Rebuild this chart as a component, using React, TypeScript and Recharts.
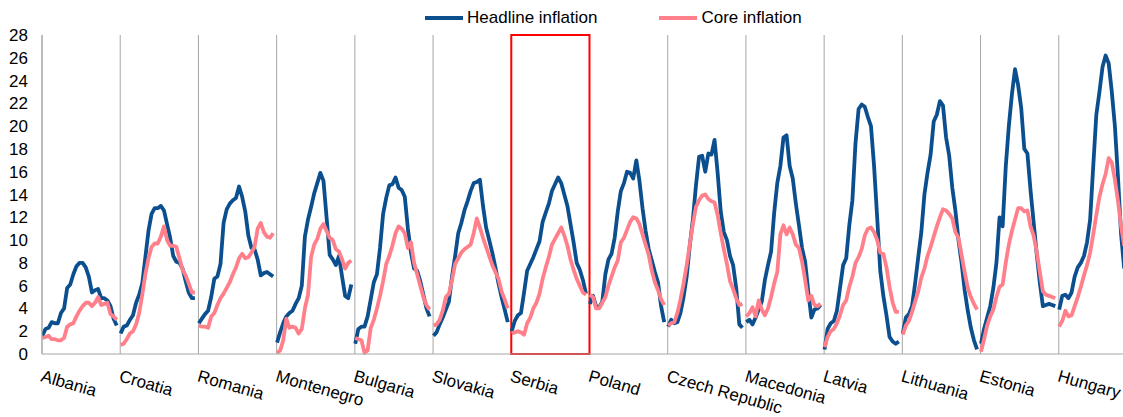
import { LineChart, Line, XAxis, YAxis, CartesianGrid, ReferenceArea } from 'recharts'

const countries = [
	'Albania', 'Croatia', 'Romania', 'Montenegro', 'Bulgaria', 'Slovakia', 'Serbia',
	'Poland', 'Czech Republic', 'Macedonia', 'Latvia', 'Lithuania', 'Estonia', 'Hungary',
]

// headline inflation, one row per country (% y/y)
const headline = [
	[1.6, 2.2, 2.3, 2.8, 2.7, 2.7, 3.6, 4.0, 5.8, 6.1, 7.0, 7.7, 8.0, 8.0, 7.6, 6.8, 5.4, 5.6, 5.7, 4.9, 4.9, 4.7, 4.2, 3.1, 2.5],
	[1.8, 2.4, 2.5, 3.0, 3.4, 4.5, 5.2, 6.2, 8.5, 10.8, 12.3, 12.8, 12.8, 13.0, 12.6, 11.4, 10.2, 8.6, 8.1, 8.0, 7.5, 6.4, 5.4, 4.9, 4.9],
	[2.7, 3.1, 3.5, 3.8, 5.0, 6.6, 6.8, 7.9, 11.5, 12.7, 13.2, 13.5, 13.7, 14.7, 13.8, 12.5, 10.4, 9.3, 9.2, 8.3, 6.9, 7.1, 7.2, 7.0, 6.8],
	[1.0, 1.9, 2.7, 3.3, 3.6, 3.8, 4.4, 4.9, 6.0, 10.3, 11.8, 12.9, 14.1, 15.0, 15.9, 15.2, 12.0, 8.7, 8.3, 7.8, 8.6, 6.8, 5.1, 4.9, 6.1],
	[0.9, 2.2, 2.4, 2.4, 3.3, 4.8, 6.3, 7.0, 9.3, 12.3, 13.7, 14.8, 14.9, 15.5, 14.6, 14.4, 13.8, 11.0, 8.9, 7.5, 7.3, 6.4, 5.2, 4.0, 3.3],
	[1.6, 1.9, 2.6, 3.2, 3.9, 4.6, 6.8, 8.6, 10.6, 11.5, 12.6, 13.4, 14.3, 15.0, 15.1, 15.3, 13.0, 11.1, 10.0, 8.9, 7.6, 6.2, 5.0, 3.9, 2.8],
	[2.0, 2.9, 3.4, 3.6, 5.4, 7.3, 7.9, 8.5, 9.2, 9.9, 11.6, 12.4, 13.2, 14.3, 14.9, 15.5, 15.0, 14.0, 13.0, 11.4, 9.8, 8.0, 7.4, 6.5, 5.3],
	[4.4, 5.1, 4.2, 4.1, 4.6, 7.0, 8.3, 8.8, 10.2, 12.5, 14.3, 15.0, 16.0, 15.9, 15.4, 17.0, 15.2, 12.8, 10.8, 9.2, 8.2, 7.2, 6.3, 4.2, 2.8],
	[2.4, 3.0, 2.7, 2.8, 3.6, 5.0, 6.8, 9.5, 11.8, 14.8, 17.3, 17.4, 16.0, 17.6, 17.5, 18.8, 15.9, 12.5, 10.7, 10.0, 8.6, 7.8, 5.8, 2.6, 2.3],
	[2.8, 3.0, 2.6, 3.2, 3.9, 4.6, 6.5, 7.8, 9.0, 12.4, 15.0, 16.5, 19.0, 19.2, 16.5, 15.4, 13.2, 11.3, 9.3, 8.1, 5.5, 3.2, 3.9, 4.0, 4.3],
	[0.4, 2.2, 2.7, 2.9, 3.8, 5.8, 7.8, 8.4, 11.3, 13.5, 18.5, 21.5, 21.9, 21.7, 20.8, 20.0, 16.5, 12.0, 7.3, 5.1, 3.4, 1.5, 1.1, 0.9, 1.1],
	[1.8, 3.2, 3.5, 4.2, 6.2, 8.5, 10.7, 14.0, 15.9, 17.5, 20.4, 21.0, 22.2, 21.8, 19.0, 17.4, 14.6, 12.6, 10.0, 8.0, 5.6, 3.8, 2.3, 1.2, 0.4],
	[0.9, 2.2, 3.2, 4.2, 5.8, 8.0, 12.0, 11.2, 16.4, 20.0, 22.8, 25.0, 23.6, 21.6, 18.0, 17.6, 14.4, 11.6, 8.8, 6.3, 4.2, 4.3, 4.4, 4.3, 4.2],
	[3.9, 5.1, 5.2, 4.9, 5.4, 6.8, 7.6, 8.0, 8.6, 9.8, 11.8, 16.5, 21.0, 23.0, 25.2, 26.2, 25.5, 23.0, 20.0, 15.5, 10.5, 7.5],
]

// core inflation, same layout
const core = [
	[1.4, 1.5, 1.6, 1.3, 1.3, 1.2, 1.2, 1.4, 2.4, 2.6, 2.7, 3.3, 3.8, 4.2, 4.5, 4.5, 4.2, 4.5, 5.0, 4.3, 4.4, 4.5, 3.5, 3.3, 3.0],
	[0.8, 0.9, 1.3, 1.8, 2.0, 2.6, 3.6, 5.2, 7.0, 8.4, 9.4, 9.7, 9.7, 10.3, 11.2, 10.0, 9.5, 9.5, 9.4, 8.4, 7.4, 6.9, 6.2, 5.4, 5.4],
	[2.5, 2.4, 2.4, 2.3, 3.3, 3.6, 4.3, 4.9, 5.3, 5.8, 6.3, 7.0, 7.6, 8.4, 8.8, 8.4, 8.5, 8.9, 9.4, 11.0, 11.5, 10.7, 10.3, 10.2, 10.6],
	[0.1, 0.3, 1.2, 3.1, 2.3, 2.4, 2.3, 1.8, 2.2, 4.0, 5.2, 8.5, 9.6, 10.1, 11.0, 11.4, 10.8, 10.2, 10.0, 9.2, 9.0, 8.3, 7.5, 8.0, 8.2],
	[1.4, 1.3, 1.2, 0.1, 0.3, 2.3, 3.0, 4.0, 5.1, 6.4, 7.9, 8.6, 9.5, 10.6, 11.2, 11.0, 10.6, 9.3, 9.8, 8.0, 7.0, 6.0, 5.0, 4.3, 3.9],
	[2.5, 2.6, 3.0, 3.8, 5.0, 5.3, 6.5, 7.9, 8.4, 8.9, 9.2, 9.4, 9.6, 10.6, 11.9, 11.1, 10.2, 9.4, 8.6, 7.8, 7.2, 6.6, 5.5, 4.8, 4.0],
	[1.8, 1.9, 2.0, 1.9, 1.7, 2.7, 3.2, 4.0, 4.5, 5.3, 6.6, 7.6, 8.5, 9.6, 10.1, 10.6, 11.1, 10.4, 9.5, 8.3, 7.4, 6.6, 6.0, 5.4, 5.2],
	[5.2, 5.0, 4.0, 4.0, 4.5, 5.0, 6.0, 6.8, 7.6, 8.2, 9.8, 10.2, 10.9, 11.6, 12.0, 11.9, 11.4, 10.5, 9.6, 8.7, 7.3, 6.3, 5.6, 4.8, 4.3],
	[2.5, 2.7, 2.8, 3.6, 4.8, 6.2, 7.8, 9.6, 11.4, 12.9, 13.5, 13.9, 14.0, 13.6, 13.4, 13.3, 12.2, 10.6, 9.2, 7.9, 6.4, 5.7, 4.9, 4.3, 4.4],
	[3.3, 3.6, 4.1, 3.3, 4.7, 3.9, 3.4, 4.0, 5.0, 6.2, 7.2, 10.5, 11.3, 10.5, 11.1, 10.5, 9.6, 9.3, 8.1, 6.5, 4.7, 5.1, 4.3, 4.2, 4.4],
	[0.6, 1.5, 2.0, 2.2, 2.7, 3.4, 4.3, 4.7, 5.9, 6.8, 8.0, 8.5, 9.2, 10.4, 11.0, 11.1, 10.7, 10.0, 8.9, 8.8, 7.6, 5.9, 4.5, 3.7, 3.7],
	[1.7, 2.5, 2.9, 3.7, 4.6, 5.5, 6.7, 7.5, 8.6, 9.4, 10.3, 11.2, 12.0, 12.7, 12.6, 12.3, 11.9, 10.7, 10.2, 8.7, 7.2, 5.8, 5.0, 4.4, 3.9],
	[0.2, 1.3, 2.5, 3.3, 3.9, 5.0, 5.9, 6.1, 8.0, 9.6, 10.8, 11.8, 12.8, 12.8, 12.5, 12.6, 11.2, 10.4, 9.0, 7.2, 5.5, 5.2, 5.1, 5.0, 4.9],
	[2.4, 2.9, 3.8, 3.3, 3.4, 4.2, 5.0, 5.9, 6.9, 7.8, 8.9, 10.5, 12.2, 13.8, 14.9, 15.8, 17.2, 16.8, 15.3, 13.4, 11.2, 9.5],
]

const yTicks = [0, 2, 4, 6, 8, 10, 12, 14, 16, 18, 20, 22, 24, 26, 28]
const highlighted = 'Serbia'

const series = [
	{ key: 'headline', name: 'Headline inflation', color: '#0b4f8f' },
	{ key: 'core', name: 'Core inflation', color: '#ff808a' },
]

const FONT = '"Liberation Sans", Arial, sans-serif'
const STEPS = 24

// each country gets one unit on the x axis, a null row breaks the line between them
const rows: Array<{ x: number; headline: number | null; core: number | null }> = []
countries.forEach((_, i) => {
	headline[i].forEach((h, j) => {
		rows.push({ x: i + 0.005 + (j / STEPS) * 0.95, headline: h, core: core[i][j] ?? null })
	})
	rows.push({ x: i + 0.99, headline: null, core: null })
})

const CountryTick = (props: any) => {
	const { x, y, payload } = props
	const tx = x - 2
	const ty = y + 19
	return (
		<text x={tx} y={ty} transform={`rotate(16, ${tx}, ${ty})`} textAnchor="start" fontSize={17} fontFamily={FONT} fill="#000">
			{countries[payload.value]}
		</text>
	)
}

const App = () => {
	const hi = countries.indexOf(highlighted)
	return (
		<div style={{ position: 'absolute', left: 0, top: 0, width: 1123, height: 417, overflow: 'hidden', background: '#fff', fontFamily: FONT }}>
			<div style={{ position: 'absolute', top: 8, left: 425, display: 'flex', alignItems: 'center', fontSize: 17, color: '#000', zIndex: 2 }}>
				{series.map((s, i) => (
					<div key={s.key} style={{ display: 'flex', alignItems: 'center', marginRight: i === 0 ? 62 : 0 }}>
						<span style={{ display: 'inline-block', width: 38, height: 4, background: s.color, marginRight: 4 }} />
						<span>{s.name}</span>
					</div>
				))}
			</div>
			<LineChart width={1137} height={417} data={rows} margin={{ top: 35, right: 0, bottom: 13, left: 0 }}>
				<CartesianGrid horizontal={false} stroke="#a6a6a6" strokeWidth={1} />
				<XAxis
					type="number"
					dataKey="x"
					domain={[0, 14]}
					ticks={countries.map((_, i) => i)}
					interval={0}
					height={50}
					tickLine={false}
					axisLine={{ stroke: '#a6a6a6' }}
					tick={<CountryTick />}
					allowDataOverflow
				/>
				<YAxis
					type="number"
					domain={[0, 28]}
					ticks={yTicks}
					interval={0}
					width={42}
					tickLine={false}
					tickMargin={8}
					axisLine={{ stroke: '#a6a6a6' }}
					tick={{ fontSize: 17, fontFamily: FONT, fill: '#000' }}
				/>
				<ReferenceArea x1={hi} x2={hi + 1} y1={0} y2={28} fill="none" stroke="#ff0000" strokeWidth={2} ifOverflow="visible" />
				{series.map((s) => (
					<Line
						key={s.key}
						type="linear"
						dataKey={s.key}
						name={s.name}
						stroke={s.color}
						strokeWidth={3.8}
						strokeLinejoin="round"
						dot={false}
						activeDot={false}
						connectNulls={false}
						isAnimationActive={false}
					/>
				))}
			</LineChart>
		</div>
	)
}

export default App
